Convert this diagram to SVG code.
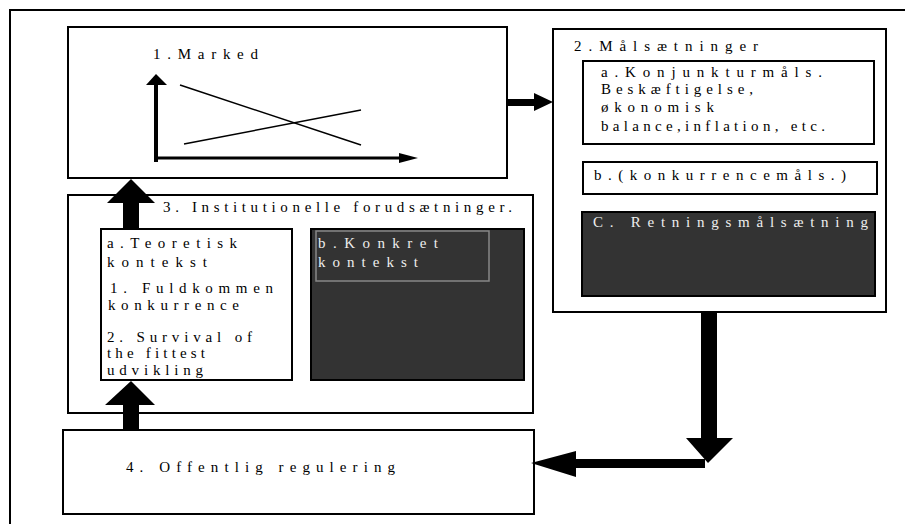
<svg xmlns="http://www.w3.org/2000/svg" width="905" height="524" viewBox="0 0 905 524">
<style>
.box{fill:#fff;stroke:#000;stroke-width:2}
.dark{fill:#333;stroke:#000;stroke-width:2}
.t{font-family:"Liberation Serif","Times New Roman",serif;font-size:15px;fill:#000}
.w{fill:#eee}
.ar{fill:#000;stroke:none}
.ln{stroke:#000;stroke-width:1.5;fill:none}
</style>
<rect width="905" height="524" fill="#fff"/>
<path d="M10 530 V10 H910" fill="none" stroke="#000" stroke-width="2"/>

<g id="marked">
<rect class="box" x="68" y="27" width="439" height="151"/>
<text class="t" x="153" y="59" textLength="105" lengthAdjust="spacing">1.Marked</text>
<path d="M156 162 V84" stroke="#000" stroke-width="4"/>
<polygon class="ar" points="146,85 167,85 156,74"/>
<path d="M155 158 H400" stroke="#000" stroke-width="3"/>
<polygon class="ar" points="399,153 399,163 418,158"/>
<line class="ln" x1="180" y1="85" x2="361" y2="145"/>
<line class="ln" x1="184" y1="144" x2="361" y2="110"/>
</g>

<g id="maalsaetninger">
<rect class="box" x="553" y="29" width="333" height="283"/>
<text class="t" x="574" y="51" textLength="184" lengthAdjust="spacing">2.Målsætninger</text>
<rect class="box" x="583" y="61" width="291" height="83"/>
<text class="t" x="601" y="77" textLength="221" lengthAdjust="spacing">a.Konjunkturmåls.</text>
<text class="t" x="601" y="94" textLength="152" lengthAdjust="spacing">Beskæftigelse,</text>
<text class="t" x="601" y="112" textLength="113" lengthAdjust="spacing">økonomisk</text>
<text class="t" x="601" y="131" textLength="224" lengthAdjust="spacing">balance,inflation, etc.</text>
<rect class="box" x="583" y="162" width="294" height="32"/>
<text class="t" x="594" y="180" textLength="252" lengthAdjust="spacing">b.(konkurrencemåls.)</text>
<rect class="dark" x="582" y="212" width="293" height="84"/>
<text class="t w" x="593" y="227" font-size="16" textLength="275" lengthAdjust="spacing">C. Retningsmålsætning</text>
</g>

<g id="institutionelle">
<rect class="box" x="68" y="195" width="465" height="218"/>
<text class="t" x="163" y="212" textLength="349" lengthAdjust="spacing">3. Institutionelle forudsætninger.</text>
</g>

<g id="teoretisk">
<rect class="box" x="101" y="229" width="191" height="151"/>
<text class="t" x="107" y="248" font-size="16" textLength="130" lengthAdjust="spacing">a.Teoretisk</text>
<text class="t" x="107" y="267" font-size="16" textLength="100" lengthAdjust="spacing">kontekst</text>
<text class="t" x="110" y="293" font-size="14" textLength="163" lengthAdjust="spacing">1. Fuldkommen</text>
<text class="t" x="108" y="310" font-size="14" textLength="131" lengthAdjust="spacing">konkurrence</text>
<text class="t" x="107" y="342" font-size="14" textLength="145" lengthAdjust="spacing">2. Survival of</text>
<text class="t" x="107" y="358" font-size="14" textLength="98" lengthAdjust="spacing">the fittest</text>
<text class="t" x="107" y="375" font-size="14" textLength="96" lengthAdjust="spacing">udvikling</text>
</g>

<g id="konkret">
<rect class="dark" x="311" y="229" width="213" height="151"/>
<rect x="316" y="231" width="173" height="50" fill="none" stroke="#888" stroke-width="1.5"/>
<text class="t w" x="318" y="248" font-size="16" textLength="120" lengthAdjust="spacing">b.Konkret</text>
<text class="t w" x="318" y="267" font-size="16" textLength="100" lengthAdjust="spacing">kontekst</text>
</g>

<g id="regulering">
<rect class="box" x="63" y="430" width="471" height="84"/>
<text class="t" x="126" y="472" font-size="15" textLength="269" lengthAdjust="spacing">4. Offentlig regulering</text>
</g>

<g id="connectors">
<polygon class="ar" points="123,229 139,229 139,203 155,203 131,179 107,203 123,203"/>
<polygon class="ar" points="123,430 139,430 139,405 155,405 131,381 105,405 123,405"/>
<polygon class="ar" points="507,99 534,99 534,93 553,102 534,111 534,106 507,106"/>
<polygon class="ar" points="701,312 717,312 717,438 733,438 708,463 686,438 701,438"/>
<polygon class="ar" points="705,459 705,468 576,468 576,477 531,463 576,451 576,459"/>
</g>
</svg>
